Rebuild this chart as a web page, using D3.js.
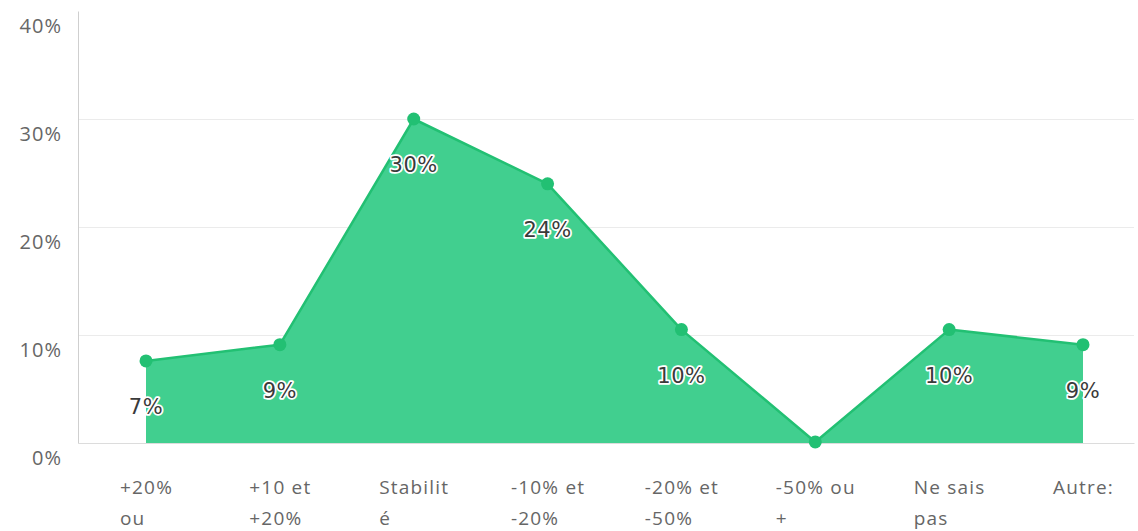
<!DOCTYPE html>
<html>
<head>
<meta charset="utf-8">
<script src="https://cdn.jsdelivr.net/npm/d3@7"></script>
<style>
  html, body { margin: 0; padding: 0; background: #fff; }
  svg { display: block; }
</style>
</head>
<body>
<svg id="chart" width="1138" height="531"></svg>
<script>
// ---- data ----
const categories = ["+20% ou", "+10 et +20%", "Stabilité", "-10% et -20%", "-20% et -50%", "-50% ou +", "Ne sais pas", "Autre:"];
const categoryLines = [["+20%", "ou"], ["+10 et", "+20%"], ["Stabilit", "é"], ["-10% et", "-20%"], ["-20% et", "-50%"], ["-50% ou", "+"], ["Ne sais", "pas"], ["Autre:"]];
const values = [7.6, 9.1, 30.0, 24.0, 10.5, 0.1, 10.5, 9.1];
const valueLabels = ["7%", "9%", "30%", "24%", "10%", "", "10%", "9%"];
const yTicks = [0, 10, 20, 30, 40];
const gridTicks = [10, 20, 30];

// ---- layout ----
const plotLeft = 78, plotRight = 1134, plotTop = 11, plotBottom = 443;
const svg = d3.select("#chart");

const x = d3.scalePoint().domain(categories).range([146, 1083]);
const y = d3.scaleLinear().domain([0, 40]).range([plotBottom, plotTop]);

const data = categories.map((c, i) => ({ c, v: values[i], label: valueLabels[i], lines: categoryLines[i] }));

// gridlines
svg.append("g")
  .attr("transform", `translate(${plotLeft},0)`)
  .call(d3.axisLeft(y).tickValues(gridTicks).tickSize(-(plotRight - plotLeft)).tickFormat(""))
  .call(g => g.select(".domain").remove())
  .call(g => g.selectAll("line").attr("stroke", "#ebebeb").attr("stroke-width", 1));

// baseline
svg.append("g")
  .attr("transform", `translate(0,${plotBottom})`)
  .call(d3.axisBottom(d3.scaleLinear().domain([0, 1]).range([plotLeft, plotRight])).tickValues([]).tickSizeOuter(0))
  .call(g => g.select(".domain").attr("stroke", "#dcdcdc"));

// area
const area = d3.area().x(d => x(d.c)).y0(y(0)).y1(d => y(d.v));
svg.append("path").datum(data)
  .attr("d", area)
  .attr("fill", "#41cf8f");

const line = d3.line().x(d => x(d.c)).y(d => y(d.v));
svg.append("path").datum(data)
  .attr("d", line)
  .attr("fill", "none")
  .attr("stroke", "#22c073")
  .attr("stroke-width", 2.5)
  .attr("stroke-linejoin", "round");

svg.append("g").selectAll("circle").data(data).join("circle")
  .attr("cx", d => x(d.c))
  .attr("cy", d => y(d.v))
  .attr("r", 6.5)
  .attr("fill", "#22c073");

// y axis
svg.append("g")
  .attr("transform", `translate(${plotLeft},0)`)
  .call(d3.axisLeft(y).tickValues(yTicks).tickSize(0).tickPadding(16).tickFormat(d => d + "%"))
  .call(g => g.select(".domain").attr("stroke", "#cfcfcf"))
  .call(g => g.selectAll("text")
    .attr("dy", "1.05em")
    .attr("fill", "#666")
    .style("font-family", "'Open Sans', sans-serif")
    .style("font-size", "20px")
    .style("letter-spacing", "1px"));

// x axis labels
const xAxis = svg.append("g")
  .attr("transform", `translate(0,${plotBottom})`)
  .call(d3.axisBottom(x).tickSize(0).tickPadding(0).tickFormat(""))
  .call(g => g.select(".domain").remove());

xAxis.selectAll(".tick").each(function(d, i) {
  const t = d3.select(this).select("text")
    .attr("y", 0).attr("dy", null)
    .attr("fill", "#666")
    .attr("text-anchor", "start")
    .style("font-family", "'Open Sans', sans-serif")
    .style("font-size", "19px")
    .style("letter-spacing", "1.2px");
  const lines = categoryLines[i];
  lines.forEach((ln, j) => {
    t.append("tspan").text(ln).attr("x", 0).attr("y", 51 + j * 31);
  });
  let maxW = 0;
  t.selectAll("tspan").each(function() { maxW = Math.max(maxW, this.getComputedTextLength()); });
  t.selectAll("tspan").attr("x", -maxW / 2);
});

// value labels
svg.append("g").selectAll("text").data(data.filter(d => d.label)).join("text")
  .attr("x", d => x(d.c))
  .attr("y", d => y(d.v) + 53)
  .attr("text-anchor", "middle")
  .text(d => d.label)
  .attr("fill", "#3a3a3a")
  .attr("stroke", "#fff")
  .attr("stroke-width", 3.5)
  .attr("stroke-linejoin", "round")
  .attr("paint-order", "stroke")
  .style("font-family", "'DejaVu Sans', sans-serif")
  .style("font-size", "21px")
  .style("letter-spacing", "0.5px");
</script>
</body>
</html>
